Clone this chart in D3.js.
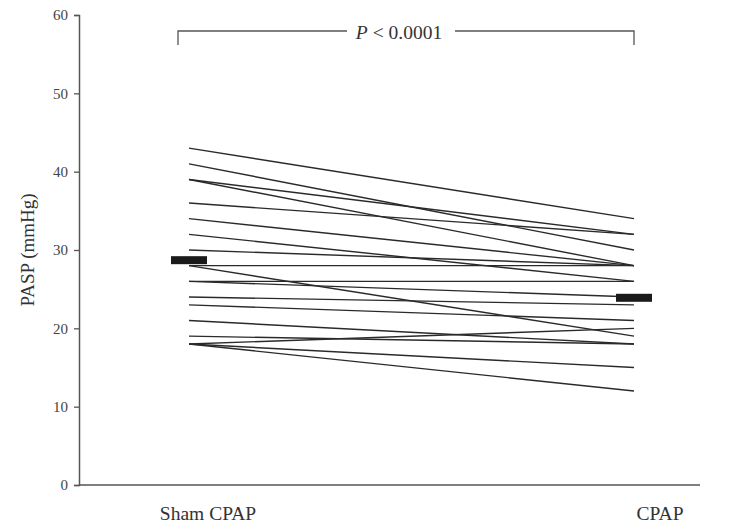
<!DOCTYPE html>
<html><head><meta charset="utf-8">
<script src="https://cdn.jsdelivr.net/npm/d3@7"></script>
<style>
html,body{margin:0;padding:0;background:#fff;}
svg{display:block;font-family:"Liberation Serif","Times New Roman",serif;}
</style></head>
<body>
<svg id="chart" width="729" height="523"></svg>
<script>
const categories = ["Sham CPAP", "CPAP"];
const shamValues = [43, 41, 39, 39, 36, 34, 32, 30, 28, 28, 26, 26, 24, 23, 21, 19, 18, 18, 18];
const cpapValues = [34, 30, 32, 28, 32, 28, 26, 28, 28, 19, 26, 24, 23, 21, 18, 18, 20, 15, 12];
const meanValues = [28.7, 23.9];
const yTicks = [0, 10, 20, 30, 40, 50, 60];
const pLabel = "< 0.0001";

const svg = d3.select("#chart");
const y = d3.scaleLinear().domain([0, 60]).range([485, 15]);
const x = d3.scalePoint().domain(categories).range([189, 634]);

const axisColor = "#555";

// y axis
const yAxis = svg.append("g").attr("transform", "translate(79,0)")
  .call(d3.axisLeft(y).tickValues(yTicks).tickSize(5).tickPadding(6).tickFormat(d3.format("d")));
yAxis.select(".domain").attr("stroke", axisColor).attr("stroke-width", 1.5);
yAxis.selectAll(".tick line").attr("stroke", axisColor).attr("stroke-width", 1.3);
yAxis.selectAll(".tick text").attr("fill", "#444").style("font-size", "15px")
  .style("font-family", '"Liberation Serif",serif');

// x axis line
svg.append("line").attr("x1", 79).attr("x2", 700).attr("y1", y(0)).attr("y2", y(0))
  .attr("stroke", axisColor).attr("stroke-width", 1.5);

// category labels
const labelOffset = {"Sham CPAP": 19, "CPAP": 26};
svg.selectAll(".cat").data(categories).enter().append("text")
  .attr("x", d => x(d) + labelOffset[d]).attr("y", 520)
  .attr("text-anchor", "middle").attr("fill", "#333")
  .style("font-size", "19.5px").text(d => d);

// y label
svg.append("text").attr("transform", "translate(34,250) rotate(-90)")
  .attr("text-anchor", "middle").attr("fill", "#333")
  .style("font-size", "19px").text("PASP (mmHg)");

// paired lines
const pairs = shamValues.map((v, i) => [v, cpapValues[i]]);
svg.selectAll(".pair").data(pairs).enter().append("line")
  .attr("x1", x(categories[0])).attr("x2", x(categories[1]))
  .attr("y1", d => y(d[0])).attr("y2", d => y(d[1]))
  .attr("stroke", "#2a2a2a").attr("stroke-width", 1.4);

// mean bars
svg.selectAll(".mean").data(meanValues).enter().append("rect")
  .attr("x", (d, i) => x(categories[i]) - 18).attr("width", 36)
  .attr("y", d => y(d) - 4).attr("height", 8)
  .attr("fill", "#1a1a1a");

// significance bracket
const bx1 = x(categories[0]) - 11, bx2 = x(categories[1]);
const by = 31, byLeg = 45;
const br = svg.append("g").attr("stroke", "#555").attr("stroke-width", 1.3).attr("fill", "none");
br.append("path").attr("d", `M${bx1},${byLeg}V${by}H347`);
br.append("path").attr("d", `M455,${by}H${bx2}V${byLeg}`);
const pt = svg.append("text").attr("x", 399).attr("y", 39).attr("text-anchor", "middle")
  .attr("fill", "#333").style("font-size", "19.5px");
pt.append("tspan").attr("font-style", "italic").text("P");
pt.append("tspan").text(" " + pLabel);
</script>
</body></html>
